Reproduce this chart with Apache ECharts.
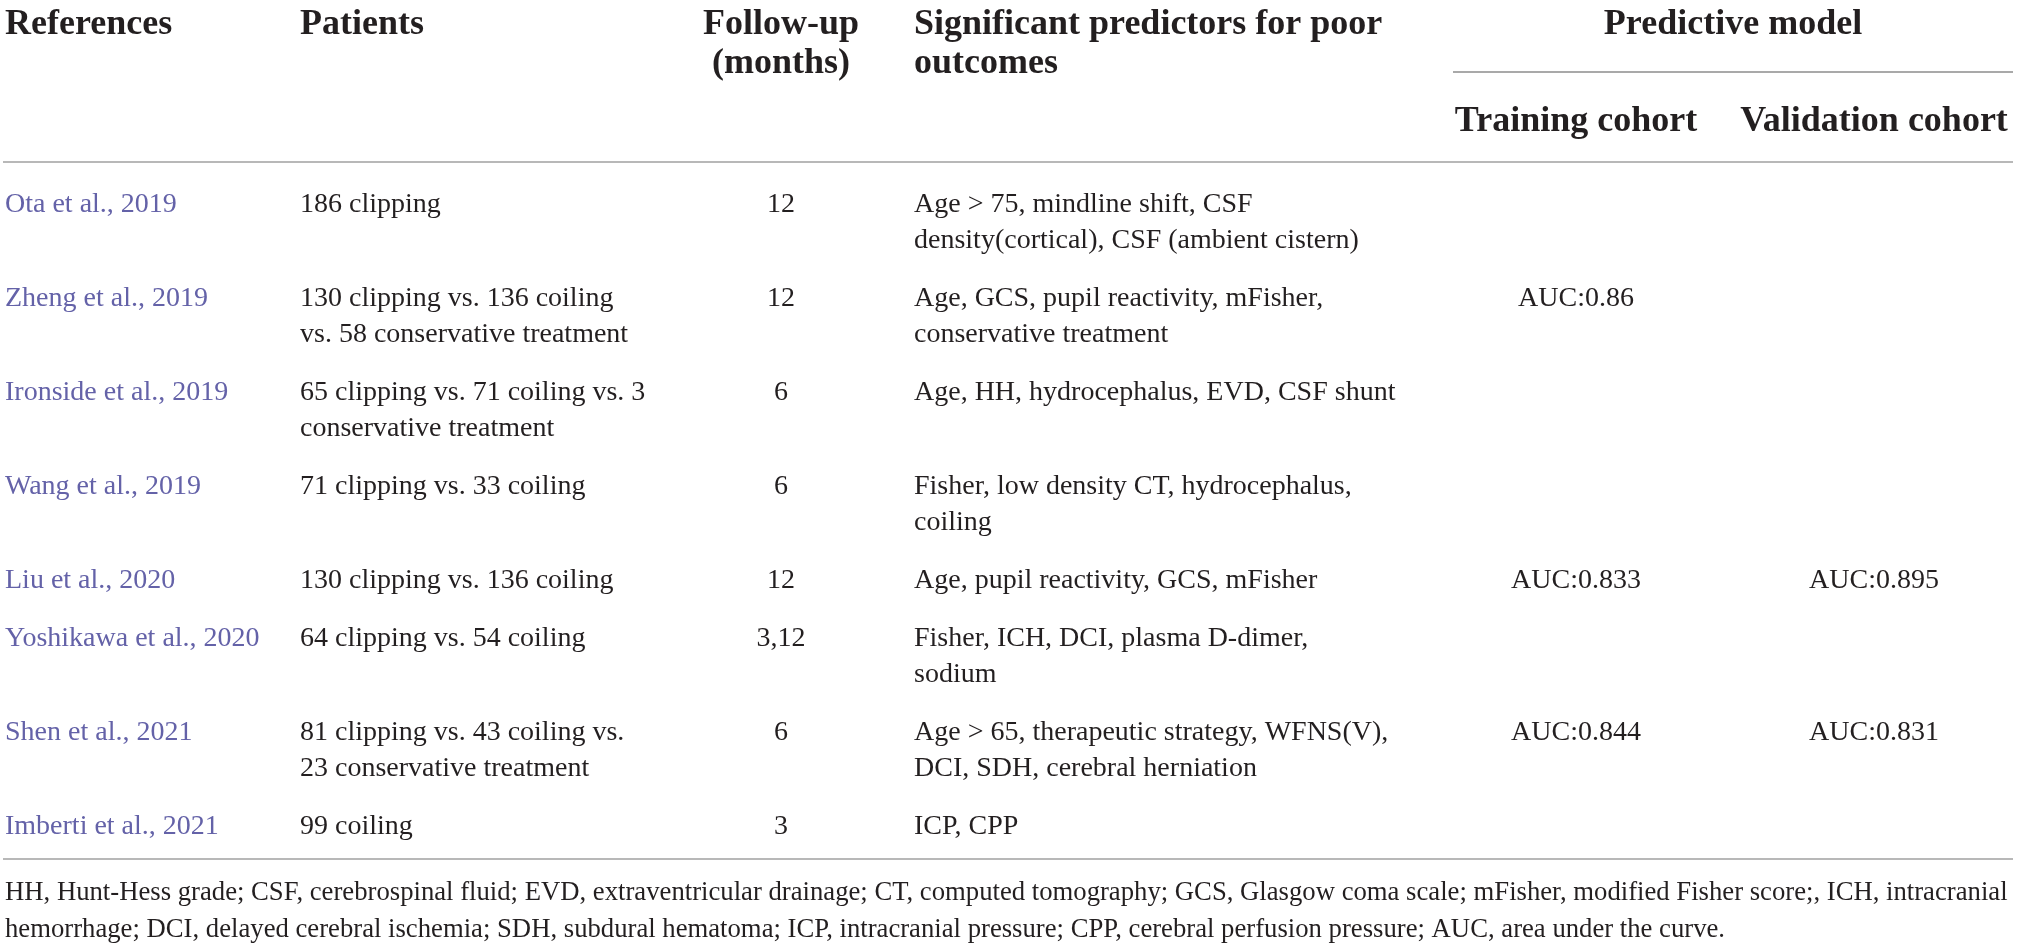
<!DOCTYPE html>
<html>
<head>
    <title>Predictors of poor outcome</title>
    <meta charset="UTF-8">
    <script src="https://cdn.jsdelivr.net/npm/echarts@6.0.0/dist/echarts.min.js"></script>
    <style>
        html, body { margin: 0; padding: 0; background: #fff; }
        #table { width: 2019px; height: 949px; }
    </style>
</head>
<body>
    <div id="table"></div>
    <script>
        // table content
        var headers = {
            ref: ['References'],
            pat: ['Patients'],
            fu: ['Follow-up', '(months)'],
            pred: ['Significant predictors for poor', 'outcomes'],
            model: 'Predictive model',
            train: 'Training cohort',
            valid: 'Validation cohort'
        };
        var references = ['Ota et al., 2019', 'Zheng et al., 2019', 'Ironside et al., 2019', 'Wang et al., 2019',
            'Liu et al., 2020', 'Yoshikawa et al., 2020', 'Shen et al., 2021', 'Imberti et al., 2021'];
        var patients = [
            ['186 clipping'],
            ['130 clipping vs. 136 coiling', 'vs. 58 conservative treatment'],
            ['65 clipping vs. 71 coiling vs. 3', 'conservative treatment'],
            ['71 clipping vs. 33 coiling'],
            ['130 clipping vs. 136 coiling'],
            ['64 clipping vs. 54 coiling'],
            ['81 clipping vs. 43 coiling vs.', '23 conservative treatment'],
            ['99 coiling']
        ];
        var followUp = ['12', '12', '6', '6', '12', '3,12', '6', '3'];
        var predictors = [
            ['Age > 75, mindline shift, CSF', 'density(cortical), CSF (ambient cistern)'],
            ['Age, GCS, pupil reactivity, mFisher,', 'conservative treatment'],
            ['Age, HH, hydrocephalus, EVD, CSF shunt'],
            ['Fisher, low density CT, hydrocephalus,', 'coiling'],
            ['Age, pupil reactivity, GCS, mFisher'],
            ['Fisher, ICH, DCI, plasma D-dimer,', 'sodium'],
            ['Age > 65, therapeutic strategy, WFNS(V),', 'DCI, SDH, cerebral herniation'],
            ['ICP, CPP']
        ];
        var trainingAuc = ['', 'AUC:0.86', '', '', 'AUC:0.833', '', 'AUC:0.844', ''];
        var validationAuc = ['', '', '', '', 'AUC:0.895', '', 'AUC:0.831', ''];
        var footnote = [
            'HH, Hunt-Hess grade; CSF, cerebrospinal fluid; EVD, extraventricular drainage; CT, computed tomography; GCS, Glasgow coma scale; mFisher, modified Fisher score;, ICH, intracranial',
            'hemorrhage; DCI, delayed cerebral ischemia; SDH, subdural hematoma; ICP, intracranial pressure; CPP, cerebral perfusion pressure; AUC, area under the curve.'
        ];

        // layout
        var W = 2019, H = 949;
        var colX = { ref: 5, pat: 300, fu: 781, pred: 914, train: 1576, valid: 1874, model: 1733 };
        var headY = [25, 64], subHeadY = 122;
        var firstRowY = 205, lineH = 36, rowPad = 22;
        var footY = [893, 930];
        var rules = [
            { x1: 1453, x2: 2013, y: 72, color: '#8c8c8c', width: 1.5 },
            { x1: 3, x2: 2013, y: 162, color: '#b8b8b8', width: 2 },
            { x1: 3, x2: 2013, y: 859, color: '#b8b8b8', width: 2 }
        ];
        var ink = '#231f20', link = '#6462a8';
        var serif = '"Liberation Serif", "DejaVu Serif", serif';
        var fonts = {
            head: 'bold 36px ' + serif,
            body: '28px ' + serif,
            foot: '26.7px ' + serif
        };

        var cells = [];
        function addLines(lines, x, y0, step, align, font, color) {
            lines.forEach(function (t, i) {
                if (t) cells.push({ x: x, y: y0 + i * step, text: t, align: align, font: font, color: color });
            });
        }

        var headStep = headY[1] - headY[0];
        addLines(headers.ref, colX.ref, headY[0], headStep, 'left', fonts.head, ink);
        addLines(headers.pat, colX.pat, headY[0], headStep, 'left', fonts.head, ink);
        addLines(headers.fu, colX.fu, headY[0], headStep, 'center', fonts.head, ink);
        addLines(headers.pred, colX.pred, headY[0], headStep, 'left', fonts.head, ink);
        addLines([headers.model], colX.model, headY[0], 0, 'center', fonts.head, ink);
        addLines([headers.train], colX.train, subHeadY, 0, 'center', fonts.head, ink);
        addLines([headers.valid], colX.valid, subHeadY, 0, 'center', fonts.head, ink);

        var y = firstRowY;
        references.forEach(function (ref, i) {
            var n = Math.max(patients[i].length, predictors[i].length);
            addLines([ref], colX.ref, y, lineH, 'left', fonts.body, link);
            addLines(patients[i], colX.pat, y, lineH, 'left', fonts.body, ink);
            addLines([followUp[i]], colX.fu, y, lineH, 'center', fonts.body, ink);
            addLines(predictors[i], colX.pred, y, lineH, 'left', fonts.body, ink);
            addLines([trainingAuc[i]], colX.train, y, lineH, 'center', fonts.body, ink);
            addLines([validationAuc[i]], colX.valid, y, lineH, 'center', fonts.body, ink);
            y += n * lineH + rowPad;
        });

        addLines(footnote, colX.ref, footY[0], footY[1] - footY[0], 'left', fonts.foot, ink);

        var chart = echarts.init(document.getElementById('table'), null, { renderer: 'canvas' });
        chart.setOption({
            animation: false,
            grid: { left: 0, right: 0, top: 0, bottom: 0 },
            xAxis: { type: 'value', min: 0, max: W, show: false },
            yAxis: { type: 'value', min: 0, max: H, inverse: true, show: false },
            series: [
                {
                    type: 'custom',
                    silent: true,
                    clip: false,
                    data: rules.map(function (r) { return [r.x1, r.y, r.x2]; }),
                    renderItem: function (params, api) {
                        var r = rules[params.dataIndex];
                        var a = api.coord([r.x1, r.y]);
                        var b = api.coord([r.x2, r.y]);
                        return {
                            type: 'line',
                            shape: { x1: a[0], y1: a[1], x2: b[0], y2: b[1] },
                            style: { stroke: r.color, lineWidth: r.width }
                        };
                    }
                },
                {
                    type: 'custom',
                    silent: true,
                    clip: false,
                    data: cells.map(function (c) { return [c.x, c.y]; }),
                    renderItem: function (params, api) {
                        var c = cells[params.dataIndex];
                        var p = api.coord([api.value(0), api.value(1)]);
                        return {
                            type: 'text',
                            x: p[0],
                            y: p[1],
                            style: {
                                text: c.text,
                                font: c.font,
                                fill: c.color,
                                align: c.align,
                                verticalAlign: 'middle'
                            }
                        };
                    }
                }
            ]
        });
    </script>
</body>
</html>
